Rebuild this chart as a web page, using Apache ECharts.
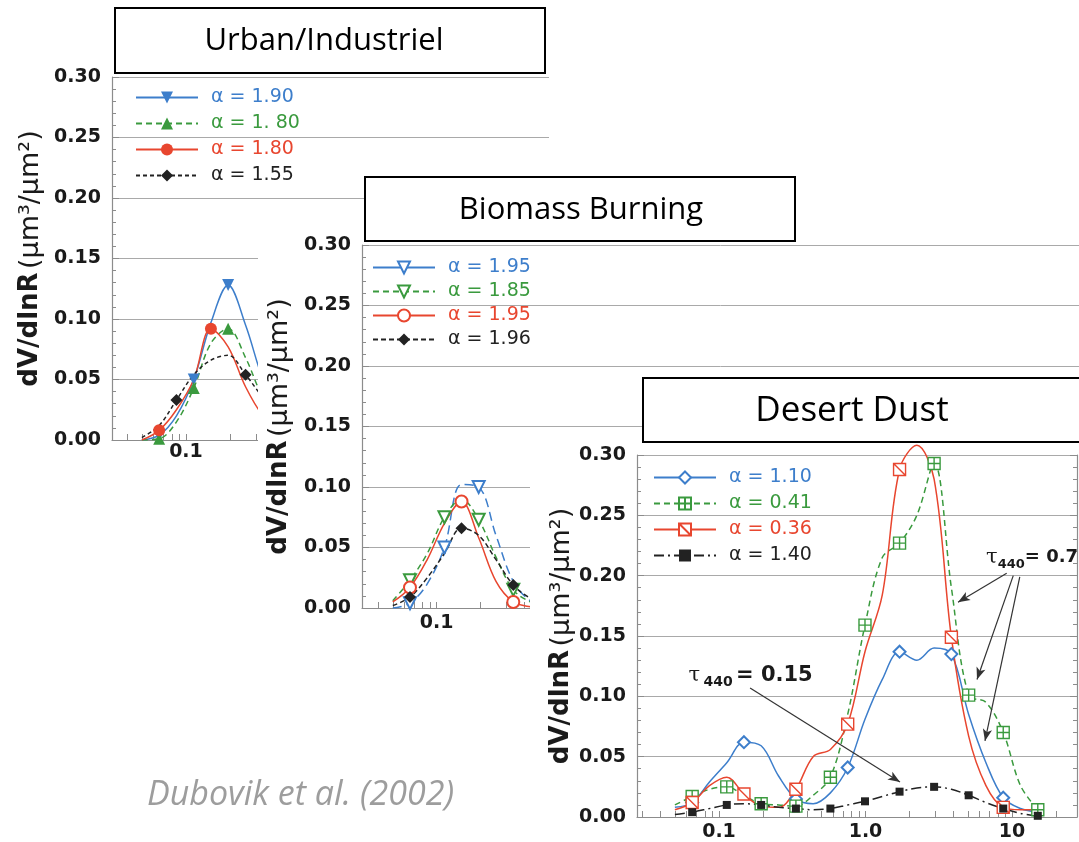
<!DOCTYPE html>
<html><head><meta charset="utf-8">
<script src="https://cdn.jsdelivr.net/npm/echarts@6/dist/echarts.min.js"></script>
<style>html,body{margin:0;padding:0;background:#fff}#c{width:1079px;height:842px}</style>
</head><body><div id="c"></div>
<script>
// ---------- DATA ----------
// particle radius bins (µm), AERONET-style 22 log-spaced bins
const xBins = [0.05, 0.0656, 0.0861, 0.113, 0.148, 0.194, 0.255, 0.335, 0.439, 0.576, 0.756,
               0.992, 1.302, 1.708, 2.241, 2.940, 3.857, 5.061, 6.641, 8.713, 11.43, 15.0];
const xTickValues = [0.03,0.04,0.05,0.06,0.07,0.08,0.09,0.1,0.2,0.3,0.4,0.5,0.6,0.7,0.8,0.9,
                     1,2,3,4,5,6,7,8,9,10,20,30,40,50,60,70,80,90,100];
const xLabelValues = [0.1, 1, 10];
const xLabelText = ['0.1', '1.0', '10'];

// Urban / Industriel
const urbanNames = ['α = 1.90', 'α = 1. 80', 'α = 1.80', 'α = 1.55'];
const urbanBlue  = [0.000,0.004,0.020,0.050,0.097,0.128,0.095,0.050,0.020,0.008,0.004,0.003,0.003,0.004,0.005,0.005,0.004,0.003,0.002,0.001,0.001,0.000];
const urbanGreen = [0.000,0.001,0.015,0.043,0.080,0.092,0.068,0.035,0.015,0.006,0.003,0.003,0.003,0.004,0.005,0.005,0.004,0.003,0.002,0.001,0.001,0.000];
const urbanRed   = [0.000,0.008,0.025,0.050,0.092,0.077,0.044,0.020,0.007,0.002,0.002,0.002,0.003,0.004,0.005,0.005,0.004,0.003,0.002,0.001,0.001,0.000];
const urbanBlack = [0.002,0.012,0.033,0.054,0.066,0.070,0.054,0.035,0.018,0.007,0.004,0.004,0.005,0.006,0.007,0.007,0.006,0.004,0.003,0.002,0.001,0.000];
const urbanMarks = [[1,3,5],[1,3,5],[1,4],[2,6]];

// Biomass Burning
const bioNames = ['α = 1.95', 'α = 1.85', 'α = 1.95\u200B', 'α = 1.96'];
const bioBlue  = [0.000,0.004,0.020,0.050,0.102,0.100,0.060,0.022,0.006,0.002,0.001,0.001,0.002,0.003,0.004,0.004,0.003,0.002,0.001,0.001,0.000,0.000];
const bioGreen = [0.006,0.023,0.045,0.075,0.090,0.073,0.042,0.015,0.005,0.001,0.001,0.001,0.002,0.003,0.004,0.004,0.003,0.002,0.001,0.001,0.000,0.000];
const bioRed   = [0.005,0.017,0.040,0.070,0.088,0.058,0.022,0.005,0.001,0.000,0.001,0.001,0.002,0.003,0.004,0.004,0.003,0.002,0.001,0.001,0.000,0.000];
const bioBlack = [0.002,0.009,0.025,0.045,0.066,0.060,0.040,0.019,0.008,0.003,0.002,0.002,0.003,0.004,0.005,0.005,0.004,0.003,0.002,0.001,0.000,0.000];
const bioMarks = [[1,3,5],[1,3,5,7],[1,4,7],[1,4,7]];

// Desert Dust
const dustNames = ['α = 1.10', 'α = 0.41', 'α = 0.36', 'α = 1.40'];
const dustBlue  = [0.008,0.012,0.029,0.045,0.062,0.059,0.034,0.015,0.011,0.020,0.041,0.081,0.114,0.137,0.130,0.140,0.135,0.085,0.045,0.016,0.007,0.004];
const dustGreen = [0.010,0.017,0.023,0.025,0.018,0.011,0.010,0.009,0.018,0.033,0.085,0.159,0.215,0.227,0.250,0.293,0.190,0.101,0.095,0.070,0.026,0.006];
const dustRed   = [0.006,0.012,0.026,0.033,0.019,0.009,0.008,0.023,0.050,0.056,0.077,0.137,0.184,0.288,0.308,0.280,0.149,0.067,0.026,0.008,0.006,0.006];
const dustBlack = [0.002,0.004,0.007,0.010,0.011,0.010,0.008,0.007,0.006,0.007,0.010,0.013,0.017,0.021,0.024,0.025,0.023,0.018,0.012,0.007,0.003,0.001];
const dustMarks = [[1,4,7,10,13,16,19],[1,3,5,7,9,11,13,15,17,19,21],[1,4,7,10,13,16,19],[1,3,5,7,9,11,13,15,17,19,21]];

// annotations (data coordinates of the dust panel)
const arrowLines = [
  [[0.163, 0.107], [1.72, 0.029]],
  [[9.2, 0.202], [4.28, 0.178]],
  [[10.2, 0.200], [5.77, 0.114]],
  [[11.3, 0.199], [6.54, 0.063]]
];
const annoLabels = [
  {coord: [0.0614, 0.117], text: '{t|τ} {s|440} {b|= 0.15}'},
  {coord: [6.6, 0.215], text: '{t|τ}{s2|440}{c|= 0.7}'}
];

// ---------- STYLE ----------
const C = {blue: '#3d7ecb', green: '#3a9a3e', red: '#e8462f', black: '#222222'};
const AX = '#8c8c8c';
const FONT = 'DejaVu Sans';

function labelFor(v) {
  for (let i = 0; i < xLabelValues.length; i++)
    if (Math.abs(Math.log10(v) - Math.log10(xLabelValues[i])) < 1e-6) return xLabelText[i];
  return '';
}
function xAx(gi, min, max, z, margin) {
  return {
    type: 'log', logBase: 10, gridIndex: gi, min, max, z,
    axisLine: {show: true, onZero: false, lineStyle: {color: AX, width: 1.2}},
    axisTick: {show: true, inside: true, length: 6, customValues: xTickValues, lineStyle: {color: AX}},
    minorTick: {show: false},
    splitLine: {show: false},
    axisLabel: {show: true, customValues: xLabelValues, formatter: labelFor, margin,
      fontFamily: FONT, fontWeight: 'bold', fontSize: 19, color: '#1a1a1a'}
  };
}
function yAx(gi, z, nameGap) {
  return {
    type: 'value', gridIndex: gi, min: 0, max: 0.3, interval: 0.05, z, position: 'left',
    axisLine: {show: true, lineStyle: {color: AX, width: 1.2}},
    axisTick: {show: true, inside: true, length: 7, lineStyle: {color: AX}},
    minorTick: {show: true, splitNumber: 5, length: 4, lineStyle: {color: AX}},
    splitLine: {show: true, lineStyle: {color: '#a9a9a9', width: 1}},
    axisLabel: {formatter: v => v.toFixed(2), margin: 11, fontFamily: FONT, fontWeight: 'bold', fontSize: 19, color: '#1a1a1a'},
    name: '{b|dV/dlnR} {n|(μm³/μm²)}', nameLocation: 'middle', nameRotate: 90, nameGap,
    nameTextStyle: {rich: {
      b: {fontFamily: FONT, fontWeight: 'bold', fontSize: 26, color: '#1a1a1a'},
      n: {fontFamily: FONT, fontSize: 27, color: '#1a1a1a'}
    }}
  };
}
function line(name, ys, marks, cfg) {
  return {
    type: 'line', name, xAxisIndex: cfg.gi, yAxisIndex: cfg.gi, z: cfg.z,
    smooth: 0.35, showSymbol: true, showAllSymbol: true, animation: false, silent: true,
    clip: cfg.clip !== false,
    symbol: cfg.symbol, symbolSize: cfg.size || 12, symbolRotate: cfg.rotate || 0,
    itemStyle: cfg.itemStyle || {color: cfg.color},
    lineStyle: {color: cfg.color, width: 1.5, type: cfg.dash || 'solid'},
    emphasis: {disabled: true},
    data: xBins.map((x, i) => marks.indexOf(i) >= 0 ? {value: [x, ys[i]]} : {value: [x, ys[i]], symbol: 'none'})
  };
}
const SQ_PLUS = 'path://M0,0L10,0L10,10L0,10Z M5,0L5,10 M0,5L10,5';
const SQ_DIAG = 'path://M0,0L10,0L10,10L0,10Z M0,0L10,10';

function legend(names, colors, left, top, z, gap) {
  return {
    orient: 'vertical', left, top, z, padding: 0, itemGap: gap, itemWidth: 62, itemHeight: 15,
    selectedMode: false,
    formatter: n => n.replace('\u200B', ''),
    textStyle: {fontFamily: FONT, fontSize: 19, padding: [0, 0, 0, 8]},
    data: names.map((n, i) => ({name: n, textStyle: {color: colors[i]}}))
  };
}

const series = [
  line(urbanNames[0], urbanBlue, urbanMarks[0], {gi: 0, z: 2, color: C.blue, symbol: 'triangle', rotate: 180}),
  line(urbanNames[1], urbanGreen, urbanMarks[1], {gi: 0, z: 2, color: C.green, symbol: 'triangle', dash: [6, 4]}),
  line(urbanNames[2], urbanRed, urbanMarks[2], {gi: 0, z: 2, color: C.red, symbol: 'circle'}),
  line(urbanNames[3], urbanBlack, urbanMarks[3], {gi: 0, z: 2, color: C.black, symbol: 'diamond', dash: [4, 3]}),

  line(bioNames[0], bioBlue, bioMarks[0], {gi: 1, z: 7, color: C.blue, symbol: 'emptyTriangle', rotate: 180, dash: [9, 5]}),
  line(bioNames[1], bioGreen, bioMarks[1], {gi: 1, z: 7, color: C.green, symbol: 'emptyTriangle', rotate: 180, dash: [6, 4]}),
  line(bioNames[2], bioRed, bioMarks[2], {gi: 1, z: 7, color: C.red, symbol: 'emptyCircle'}),
  line(bioNames[3], bioBlack, bioMarks[3], {gi: 1, z: 7, color: C.black, symbol: 'diamond', dash: [5, 3]}),

  line(dustNames[0], dustBlue, dustMarks[0], {gi: 2, z: 12, color: C.blue, symbol: 'emptyDiamond', size: 12, clip: false}),
  line(dustNames[1], dustGreen, dustMarks[1], {gi: 2, z: 12, color: C.green, symbol: SQ_PLUS, size: 12, dash: [6, 4], clip: false,
    itemStyle: {color: '#fff', borderColor: C.green, borderWidth: 1.4}}),
  line(dustNames[2], dustRed, dustMarks[2], {gi: 2, z: 12, color: C.red, symbol: SQ_DIAG, size: 12, clip: false,
    itemStyle: {color: '#fff', borderColor: C.red, borderWidth: 1.4}}),
  line(dustNames[3], dustBlack, dustMarks[3], {gi: 2, z: 12, color: C.black, symbol: 'rect', size: 8, dash: [10, 4, 2, 4], clip: false})
];
// annotations on the dust panel
series[11].markLine = {
  silent: true, z: 13, symbol: ['none', 'arrow'], symbolSize: [7, 12], animation: false,
  lineStyle: {color: '#333', width: 1.2, type: 'solid'}, label: {show: false},
  data: arrowLines.map(a => [{coord: a[0]}, {coord: a[1]}])
};
series[11].markPoint = {
  silent: true, z: 13, symbol: 'circle', symbolSize: 1, animation: false,
  itemStyle: {color: 'rgba(0,0,0,0)'},
  label: {show: true, position: 'right', distance: 0, color: '#1a1a1a',
    formatter: p => p.data.text,
    rich: {
      t: {fontFamily: 'DejaVu Serif', fontSize: 21, color: '#1a1a1a', verticalAlign: 'middle', lineHeight: 28},
      s: {fontFamily: FONT, fontWeight: 'bold', fontSize: 14, color: '#1a1a1a', verticalAlign: 'bottom', lineHeight: 28},
      s2: {fontFamily: FONT, fontWeight: 'bold', fontSize: 13, color: '#1a1a1a', verticalAlign: 'bottom', lineHeight: 28},
      b: {fontFamily: FONT, fontWeight: 'bold', fontSize: 21, color: '#1a1a1a', verticalAlign: 'middle', lineHeight: 28},
      c: {fontFamily: FONT, fontWeight: 'bold', fontSize: 18, color: '#1a1a1a', verticalAlign: 'middle', lineHeight: 28}
    }},
  data: annoLabels.map(a => ({coord: a.coord, text: a.text}))
};

const boxStyle = {fill: '#fff', stroke: '#000', lineWidth: 2};
function titleBox(x, y, w, h, text, size, tx, z) {
  return [
    {type: 'rect', silent: true, z, shape: {x, y, width: w, height: h}, style: boxStyle},
    {type: 'text', silent: true, z: z + 1, style: {text, x: tx, y: y + h / 2 + 1, textAlign: 'center', textVerticalAlign: 'middle',
      align: 'center', verticalAlign: 'middle', font: size + 'px "Open Sans"', fill: '#000'}}
  ];
}

const option = {
  backgroundColor: '#fff',
  animation: false,
  grid: [
    {left: 112, top: 77, width: 437, height: 363},
    {left: 362, top: 245, width: 720, height: 363},
    {left: 637, top: 455, width: 440, height: 363}
  ],
  xAxis: [
    xAx(0, 0.03126, 30.06, 1, 3),
    xAx(1, 0.03076, 2529, 6, 6),
    xAx(2, 0.02756, 27.78, 11, 6)
  ],
  yAxis: [
    yAx(0, 1, 68),
    yAx(1, 6, 62),
    yAx(2, 11, 58),
    {type: 'value', gridIndex: 2, min: 0, max: 0.3, interval: 0.05, z: 11, position: 'right',
     axisLine: {show: true, lineStyle: {color: AX, width: 1.2}},
     axisTick: {show: true, inside: true, length: 7, lineStyle: {color: AX}},
     minorTick: {show: true, splitNumber: 5, length: 4, lineStyle: {color: AX}},
     splitLine: {show: false}, axisLabel: {show: false}}
  ],
  legend: [
    legend(urbanNames, [C.blue, C.green, C.red, C.black], 135, 88, 3, 7),
    Object.assign(legend(bioNames, [C.blue, C.green, C.red, C.black], 372, 258, 8, 5), {
      data: bioNames.map((n, i) => ({name: n, textStyle: {color: [C.blue, C.green, C.red, C.black][i]},
        lineStyle: i === 0 ? {type: 'solid'} : undefined}))
    }),
    legend(dustNames, [C.blue, C.green, C.red, C.black], 653, 468, 13, 7)
  ],
  graphic: {elements: [
    // panel backgrounds (later panels sit on top of earlier ones)
    {type: 'rect', silent: true, z: 5, shape: {x: 258, y: 243, width: 830, height: 610}, style: {fill: '#fff'}},
    {type: 'rect', silent: true, z: 10, shape: {x: 530, y: 440, width: 560, height: 410}, style: {fill: '#fff'}},
    ...titleBox(115, 8, 430, 65, 'Urban/Industriel', 31, 324, 3),
    ...titleBox(365, 177, 430, 64, 'Biomass Burning', 31, 581, 9),
    ...titleBox(643, 378, 445, 64, 'Desert Dust', 35, 852, 16),
    {type: 'text', silent: true, z: 20, style: {text: 'Dubovik et al. (2002)', x: 147, y: 795,
      textVerticalAlign: 'middle', verticalAlign: 'middle', font: 'italic 34px "Open Sans"', fill: '#9d9d9d'}}
  ]},
  series
};

const chart = echarts.init(document.getElementById('c'), null, {renderer: 'canvas'});
chart.setOption(option);
</script>
</body></html>
